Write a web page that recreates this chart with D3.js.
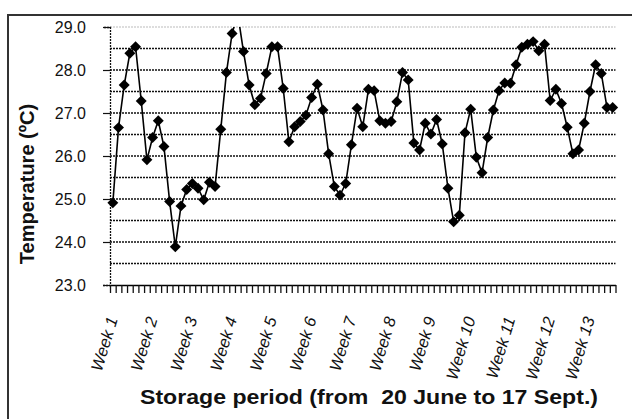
<!DOCTYPE html>
<html>
<head>
<meta charset="utf-8">
<script src="https://cdn.jsdelivr.net/npm/d3@7"></script>
<style>
  body { margin: 0; background: #fff; }
  svg { display: block; font-family: "Liberation Sans", Arial, sans-serif; }
</style>
</head>
<body>
<div id="chart"></div>
<script>
// daily storage temperatures, 20 June - 17 Sept.
const temps = [
  24.91, 26.66, 27.65, 28.39, 28.54, 27.28, 25.91, 26.43, 26.82, 26.22,
  24.94, 23.89, 24.84, 25.22, 25.36, 25.25, 24.98, 25.39, 25.29, 26.62,
  27.94, 28.85, 29.30, 28.43, 27.65, 27.19, 27.34, 27.92, 28.54, 28.54,
  27.57, 26.33, 26.68, 26.80, 26.95, 27.36, 27.67, 27.07, 26.05, 25.29,
  25.09, 25.36, 26.26, 27.11, 26.68, 27.55, 27.52, 26.82, 26.76, 26.80,
  27.26, 27.94, 27.77, 26.30, 26.14, 26.76, 26.51, 26.85, 26.28, 25.25,
  24.47, 24.62, 26.54, 27.09, 25.97, 25.61, 26.43, 27.07, 27.52, 27.70,
  27.69, 28.12, 28.53, 28.60, 28.66, 28.45, 28.60, 27.29, 27.55, 27.22,
  26.67, 26.05, 26.14, 26.76, 27.50, 28.12, 27.92, 27.13, 27.13
];
const weekLabels = ["Week 1", "Week 2", "Week 3", "Week 4", "Week 5", "Week 6", "Week 7",
  "Week 8", "Week 9", "Week 10", "Week 11", "Week 12", "Week 13"];
const daysPerWeek = 7;
const yTicks = [23, 24, 25, 26, 27, 28, 29];
const yGrid = [23.5, 24, 24.5, 25, 25.5, 26, 26.5, 27, 27.5, 28, 28.5];
const yTop = 29;

const width = 632, height = 419;
const plot = {left: 110, right: 615.5, top: 27, bottom: 285};

const svg = d3.select("#chart").append("svg")
    .attr("width", width)
    .attr("height", height);

// chart area border (runs off the picture right and bottom)
svg.append("rect")
    .attr("x", 8).attr("y", 15)
    .attr("width", 700).attr("height", 500)
    .attr("fill", "none")
    .attr("stroke", "#333")
    .attr("stroke-width", 2);

const x = d3.scaleLinear().domain([0, temps.length]).range([plot.left, plot.right]);
const y = d3.scaleLinear().domain([23, 29]).range([plot.bottom, plot.top]);

// gridlines
svg.append("g").selectAll("line").data(yGrid).enter().append("line")
    .attr("x1", plot.left).attr("x2", plot.right)
    .attr("y1", d => y(d)).attr("y2", d => y(d))
    .attr("stroke", "#111")
    .attr("stroke-width", 1.4)
    .attr("stroke-dasharray", "2,1");

svg.append("line")
    .attr("x1", plot.left).attr("x2", plot.right)
    .attr("y1", y(yTop)).attr("y2", y(yTop))
    .attr("stroke", "#bbb")
    .attr("stroke-dasharray", "2,1");

// y axis
const yAxis = svg.append("g")
    .attr("transform", `translate(${plot.left},0)`)
    .call(d3.axisLeft(y).tickValues(yTicks).tickFormat(d3.format(".1f"))
        .tickSize(7).tickPadding(17));
yAxis.select(".domain").attr("stroke", "#111").attr("stroke-width", 1.3).attr("stroke-dasharray", "2,1");
yAxis.selectAll(".tick line").attr("stroke", "#111").attr("stroke-width", 1.2);
yAxis.selectAll(".tick text")
    .attr("font-size", 16)
    .attr("font-family", "'Liberation Sans', Arial, sans-serif")
    .attr("fill", "#111");

// x axis: one tick between each day
const xAxis = svg.append("g")
    .attr("transform", `translate(0,${plot.bottom})`)
    .call(d3.axisBottom(x).tickValues(d3.range(temps.length + 1)).tickFormat("")
        .tickSizeInner(8).tickSizeOuter(0));
xAxis.select(".domain").attr("stroke", "#000").attr("stroke-width", 1.5);
xAxis.selectAll(".tick line").attr("stroke", "#111").attr("stroke-width", 1.3);

// week labels
svg.append("g").selectAll("text").data(weekLabels).enter().append("text")
    .attr("transform", (d, i) => `translate(${x(i * daysPerWeek + 0.5) + 5},319) rotate(-73)`)
    .attr("text-anchor", "end")
    .attr("font-size", 16.5)
    .attr("font-style", "italic")
    .attr("fill", "#111")
    .text(d => d);

// series, clipped at the top of the plot
svg.append("clipPath").attr("id", "clip")
    .append("rect")
    .attr("x", 0).attr("y", plot.top)
    .attr("width", width).attr("height", height - plot.top);

const series = svg.append("g").attr("clip-path", "url(#clip)");

const line = d3.line()
    .x((d, i) => x(i + 0.5))
    .y(d => y(d));

series.append("path")
    .datum(temps)
    .attr("d", line)
    .attr("fill", "none")
    .attr("stroke", "#000")
    .attr("stroke-width", 1.6);

series.selectAll(".marker").data(temps).enter().append("path")
    .attr("class", "marker")
    .attr("d", d3.symbol(d3.symbolSquare, 60))
    .attr("transform", (d, i) => `translate(${x(i + 0.5)},${y(d)}) rotate(45)`)
    .attr("fill", "#000");

// axis titles
svg.append("text")
    .attr("transform", "translate(369,404) scale(1.1,1)")
    .attr("text-anchor", "middle")
    .attr("font-size", 21)
    .attr("font-weight", "bold")
    .attr("fill", "#111")
    .style("white-space", "pre")
    .text("Storage period (from  20 June to 17 Sept.)");

svg.append("text")
    .attr("transform", "translate(34,184) rotate(-90)")
    .attr("text-anchor", "middle")
    .attr("font-size", 20)
    .attr("font-weight", "bold")
    .attr("fill", "#111")
    .text("Temperature (ºC)");
</script>
</body>
</html>
